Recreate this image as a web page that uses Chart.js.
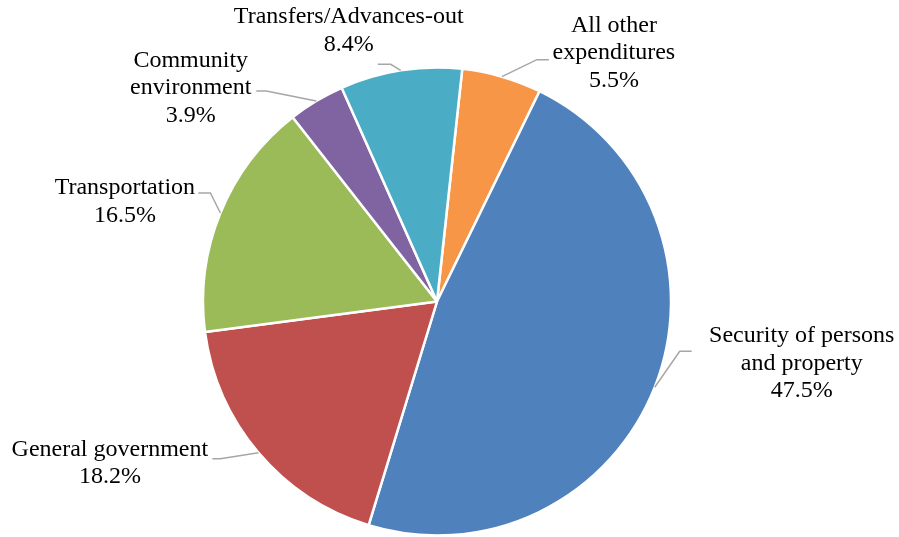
<!DOCTYPE html>
<html>
<head>
<meta charset="utf-8">
<title>Expenditures by function</title>
<script src="https://cdn.jsdelivr.net/npm/chart.js@4.4.0/dist/chart.umd.min.js"></script>
<style>
  html, body { margin: 0; padding: 0; background: #ffffff; }
  #wrap { width: 899px; height: 537px; }
</style>
</head>
<body>
<div id="wrap"><canvas id="pieChart" width="899" height="537"></canvas></div>
<script>
// categories in clockwise order, each split into its display lines
const categories = [
    ['All other', 'expenditures'],
    ['Security of persons', 'and property'],
    ['General government'],
    ['Transportation'],
    ['Community', 'environment'],
    ['Transfers/Advances-out']
];
const shares = [5.5, 47.5, 18.2, 16.5, 3.9, 8.4];
const sliceColors = ['#F79646', '#4F81BD', '#C0504D', '#9BBB59', '#8064A2', '#4BACC6'];

// label placement relative to the point where each slice's mid-angle meets the rim
// text: [dx, dy] of the first baseline (centred text); lead: [dx, dy] of leader end; stub: horizontal run
const labelLayout = [
    { text: [112, -45], lead: [47, -17], stub: 12 },
    { text: [147, -45], lead: [37, -36], stub: 12 },
    { text: [-148.5, 3], lead: [-46, 6], stub: 8 },
    { text: [-95.5, -19], lead: [-22, -20], stub: 12 },
    { text: [-125.5, -34.5], lead: [-60, -10], stub: 10 },
    { text: [-52, -47], lead: [-23, -6], stub: 13 }
];

const lineHeight = 27.5;

const outsideLabels = {
    id: 'outsideLabels',
    afterDatasetsDraw(chart) {
        const ctx = chart.ctx;
        const meta = chart.getDatasetMeta(0);
        const values = chart.data.datasets[0].data;
        ctx.save();
        meta.data.forEach((arc, i) => {
            const mid = (arc.startAngle + arc.endAngle) / 2;
            const ex = arc.x + Math.cos(mid) * arc.outerRadius;
            const ey = arc.y + Math.sin(mid) * arc.outerRadius;
            const lay = labelLayout[i];

            // leader line: short horizontal run from the label, then straight to the rim
            const ax = ex + lay.lead[0];
            const ay = ey + lay.lead[1];
            const dir = lay.lead[0] > 0 ? -1 : 1;
            ctx.strokeStyle = '#A6A6A6';
            ctx.lineWidth = 1.5;
            ctx.beginPath();
            ctx.moveTo(ax, ay);
            ctx.lineTo(ax + dir * lay.stub, ay);
            ctx.lineTo(ex, ey);
            ctx.stroke();

            // label text plus the share
            const lines = categories[i].concat([values[i].toFixed(1) + '%']);
            ctx.fillStyle = '#000000';
            ctx.font = '24px "Liberation Serif", "Times New Roman", serif';
            ctx.textAlign = 'center';
            ctx.textBaseline = 'alphabetic';
            const tx = ex + lay.text[0];
            const ty = ey + lay.text[1];
            lines.forEach((ln, k) => ctx.fillText(ln, tx, ty + k * lineHeight));
        });
        ctx.restore();
    }
};

new Chart(document.getElementById('pieChart').getContext('2d'), {
    type: 'pie',
    data: {
        labels: categories,
        datasets: [{
            data: shares,
            backgroundColor: sliceColors,
            borderColor: '#ffffff',
            borderWidth: 2.5,
            hoverOffset: 0
        }]
    },
    options: {
        responsive: false,
        animation: false,
        rotation: 6.2,
        radius: 234,
        layout: { padding: { top: 67, bottom: 1, left: 0, right: 25 } },
        plugins: {
            legend: { display: false },
            tooltip: { enabled: false }
        }
    },
    plugins: [outsideLabels]
});
</script>
</body>
</html>
